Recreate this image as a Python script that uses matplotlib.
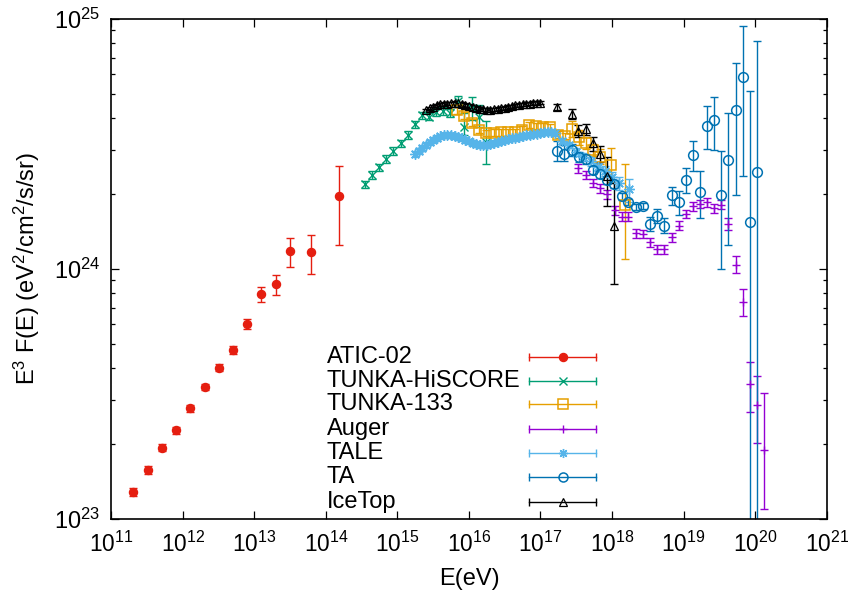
import numpy as np
import matplotlib
matplotlib.use('Agg')
import matplotlib.pyplot as plt
from matplotlib.ticker import LogLocator, NullLocator, NullFormatter

plt.rcParams['font.family'] = ['Liberation Sans', 'DejaVu Sans']
plt.rcParams['mathtext.default'] = 'regular'

UNIT = 1e24  # flux values below are in units of 1e24 eV^2/cm^2/s/sr

# ---------------- data (log10 E, E^3 F / 1e24, relative errors) ----------------
atic_logE = [11.309, 11.510, 11.710, 11.906, 12.106, 12.311, 12.502, 12.698, 12.898,
             13.098, 13.299, 13.495, 13.792, 14.184]
atic_val = [0.1286, 0.157, 0.193, 0.226, 0.277, 0.337, 0.403, 0.474, 0.604,
            0.792, 0.868, 1.18, 1.17, 1.95]
atic_eup = [0.035, 0.035, 0.03, 0.03, 0.03, 0.03, 0.03, 0.035, 0.045, 0.067, 0.091, 0.127, 0.174, 0.33]
atic_edn = [0.035, 0.035, 0.03, 0.03, 0.03, 0.03, 0.03, 0.035, 0.045, 0.067, 0.091, 0.137, 0.186, 0.36]

hiscore_logE = [14.547, 14.645, 14.743, 14.845, 14.943, 15.046, 15.144, 15.246, 15.340,
                15.442, 15.540, 15.641, 15.739, 15.843, 15.935, 16.038, 16.136, 16.234]
hiscore_val = [2.18, 2.38, 2.55, 2.76, 2.96, 3.18, 3.43, 3.79, 4.12,
               4.07, 4.26, 4.29, 4.20, 4.70, 3.71, 4.39, 4.04, 3.21]
hiscore_eup = [0.035, 0.035, 0.035, 0.035, 0.035, 0.035, 0.035, 0.035, 0.035,
               0.035, 0.035, 0.035, 0.035, 0.05, 0.13, 0.11, 0.12, 0.22]
hiscore_edn = [0.035, 0.035, 0.035, 0.035, 0.035, 0.035, 0.035, 0.035, 0.035,
               0.035, 0.035, 0.035, 0.035, 0.05, 0.075, 0.10, 0.083, 0.18]

tunka_logE = [15.829, 15.931, 16.036, 16.141, 16.243, 16.348, 16.448, 16.546, 16.644,
              16.738, 16.840, 16.942, 17.040, 17.133, 17.238, 17.336, 17.436, 17.538,
              17.636, 17.734, 17.832, 17.982, 18.182]
tunka_val = [4.31, 4.11, 3.85, 3.60, 3.50, 3.51, 3.52, 3.52, 3.54,
             3.61, 3.77, 3.73, 3.71, 3.70, 3.45, 3.40, 3.63, 3.36,
             3.19, 2.99, 2.81, 2.61, 1.80]
tunka_eup = [0.03, 0.03, 0.03, 0.03, 0.03, 0.03, 0.03, 0.03, 0.03,
             0.03, 0.03, 0.03, 0.03, 0.03, 0.03, 0.03, 0.075, 0.07,
             0.06, 0.06, 0.07, 0.17, 0.46]
tunka_edn = [0.03, 0.03, 0.03, 0.03, 0.03, 0.03, 0.03, 0.03, 0.03,
             0.03, 0.03, 0.03, 0.03, 0.03, 0.03, 0.03, 0.07, 0.065,
             0.055, 0.055, 0.065, 0.145, 0.39]

auger_logE = [17.528, 17.632, 17.730, 17.832, 17.934, 18.037, 18.135, 18.227, 18.335,
              18.437, 18.530, 18.632, 18.726, 18.834, 18.932, 19.029, 19.127, 19.229,
              19.331, 19.429, 19.523, 19.625, 19.728, 19.826, 19.928, 20.030, 20.128]
auger_val = [2.53, 2.38, 2.21, 2.10, 1.99, 1.72, 1.62, 1.62, 1.39,
             1.38, 1.28, 1.20, 1.20, 1.34, 1.49, 1.66, 1.78, 1.82,
             1.85, 1.75, 1.81, 1.51, 1.04, 0.740, 0.346, 0.286, 0.189]
auger_eup = [0.04] * 21 + [0.055, 0.08, 0.121, 0.231, 0.306, 0.695]
auger_edn = [0.04] * 21 + [0.055, 0.075, 0.123, 0.223, 0.293, 0.421]

tale_logE = [15.25, 15.30, 15.35, 15.40, 15.45, 15.50, 15.55, 15.60, 15.65, 15.70,
             15.75, 15.80, 15.85, 15.90, 15.95, 16.00, 16.05, 16.10, 16.15, 16.20,
             16.25, 16.30, 16.35, 16.40, 16.45, 16.50, 16.55, 16.60, 16.65, 16.70,
             16.75, 16.80, 16.85, 16.90, 16.95, 17.00, 17.05, 17.10, 17.15, 17.20,
             17.30, 17.40, 17.50, 17.60, 17.70, 17.80, 17.90, 18.00, 18.10, 18.24]
tale_val = [2.88, 2.96, 3.05, 3.13, 3.21, 3.28, 3.34, 3.39, 3.42, 3.44,
            3.42, 3.40, 3.37, 3.33, 3.28, 3.24, 3.19, 3.16, 3.13, 3.12,
            3.13, 3.16, 3.19, 3.22, 3.25, 3.28, 3.31, 3.33, 3.34, 3.37,
            3.40, 3.42, 3.44, 3.47, 3.48, 3.50, 3.52, 3.53, 3.53, 3.50,
            3.25, 3.13, 2.94, 2.81, 2.70, 2.56, 2.47, 2.33, 2.21, 2.08]
tale_eup = [0.025] * 40 + [0.03, 0.03, 0.035, 0.035, 0.04, 0.04, 0.045, 0.05, 0.06, 0.105]
tale_edn = [0.025] * 40 + [0.03, 0.03, 0.035, 0.035, 0.04, 0.04, 0.045, 0.05, 0.06, 0.105]

ta_logE = [17.226, 17.328, 17.436, 17.538, 17.632, 17.730, 17.832, 17.934, 18.032, 18.135,
           18.227, 18.335, 18.437, 18.530, 18.624, 18.726, 18.834, 18.932, 19.029, 19.127,
           19.229, 19.323, 19.425, 19.523, 19.625, 19.728, 19.826, 19.928, 20.030]
ta_val = [2.97, 2.88, 2.99, 2.81, 2.75, 2.49, 2.40, 2.27, 2.18, 1.95,
          1.86, 1.77, 1.78, 1.51, 1.63, 1.49, 1.98, 1.86, 2.26, 2.86,
          2.04, 3.74, 3.95, 1.98, 2.73, 4.33, 5.87, 1.54, 2.44]
ta_lo = [2.71, 2.70, 2.83, 2.68, 2.63, 2.40, 2.31, 2.19, 2.10, 1.88,
         1.81, 1.72, 1.73, 1.42, 1.53, 1.39, 1.81, 1.65, 2.01, 2.47,
         1.60, 3.02, 2.98, 1.00, 1.25, 1.98, 2.36, 0.001, 0.001]
ta_hi = [3.26, 3.13, 3.16, 2.94, 2.88, 2.58, 2.49, 2.36, 2.26, 2.02,
         1.91, 1.82, 1.83, 1.61, 1.73, 1.60, 2.12, 2.06, 2.54, 3.26,
         2.47, 4.47, 4.89, 2.97, 4.21, 6.68, 9.39, 5.13, 8.17]

icetop_logE = [15.40, 15.45, 15.50, 15.55, 15.60, 15.65, 15.70, 15.75, 15.80, 15.85,
               15.90, 15.95, 16.00, 16.05, 16.10, 16.15, 16.20, 16.25, 16.30, 16.35,
               16.40, 16.45, 16.50, 16.55, 16.60, 16.65, 16.70, 16.75, 16.80, 16.85,
               16.90, 16.95, 17.00,
               17.226, 17.436, 17.528, 17.636, 17.730, 17.832, 17.930, 18.034]
icetop_val = [4.31, 4.39, 4.45, 4.51, 4.55, 4.57, 4.59, 4.60, 4.61, 4.60,
              4.57, 4.53, 4.49, 4.45, 4.41, 4.37, 4.35, 4.33, 4.33, 4.35,
              4.37, 4.39, 4.41, 4.45, 4.47, 4.51, 4.53, 4.55, 4.57, 4.59,
              4.61, 4.61, 4.63,
              4.44, 4.16, 3.57, 3.62, 3.18, 2.89, 2.36, 1.48]
icetop_eup = [0.015] * 33 + [0.03, 0.045, 0.055, 0.055, 0.065, 0.075, 0.19, 0.49]
icetop_edn = [0.015] * 33 + [0.03, 0.045, 0.055, 0.055, 0.065, 0.075, 0.24, 0.41]

labels = ['ATIC-02', 'TUNKA-HiSCORE', 'TUNKA-133', 'Auger', 'TALE', 'TA', 'IceTop']

# ---------------- figure ----------------
W, H = 848, 601
fig = plt.figure(figsize=(W / 100, H / 100), dpi=100)
L, R, T, B = 111.2, 826.7, 19.0, 519.0
ax = fig.add_axes([L / W, 1 - B / H, (R - L) / W, (B - T) / H])
ax.set_xscale('log')
ax.set_yscale('log')
ax.set_xlim(1e11, 1e21)
ax.set_ylim(1e23, 1e25)

styles = [
    dict(color='#e51e10', marker='o', ms=5.8, mfc='#e51e10', mew=1.0),
    dict(color='#009e73', marker='x', ms=6.0, mfc='none', mew=1.0),
    dict(color='#e69f00', marker='s', ms=6.5, mfc='none', mew=1.1),
    dict(color='#9400d3', marker='+', ms=6.0, mfc='none', mew=1.0),
    dict(color='#56b4e9', marker=(8, 2, 0), ms=7.5, mfc='none', mew=1.0),
    dict(color='#0072b2', marker='o', ms=7.0, mfc='none', mew=1.1),
    dict(color='black', marker='^', ms=6.0, mfc='none', mew=0.9),
]


def draw(x, y, yerr, st):
    ax.errorbar(x, y, yerr=yerr, fmt='none', ecolor=st['color'], elinewidth=1.0,
                capsize=3.0, capthick=1.0, zorder=2)
    ax.plot(x, y, ls='none', marker=st['marker'], ms=st['ms'], mec=st['color'],
            mfc=st['mfc'], mew=st['mew'], zorder=3)


def plot_rel(logE, val, eup, edn, st):
    x = 10 ** np.array(logE)
    y = np.array(val) * UNIT
    draw(x, y, [y * np.array(edn), y * np.array(eup)], st)


def plot_abs(logE, val, lo, hi, st):
    x = 10 ** np.array(logE)
    y = np.array(val) * UNIT
    draw(x, y, [y - np.array(lo) * UNIT, np.array(hi) * UNIT - y], st)


plot_rel(atic_logE, atic_val, atic_eup, atic_edn, styles[0])
plot_rel(hiscore_logE, hiscore_val, hiscore_eup, hiscore_edn, styles[1])
plot_rel(tunka_logE, tunka_val, tunka_eup, tunka_edn, styles[2])
plot_rel(auger_logE, auger_val, auger_eup, auger_edn, styles[3])
plot_rel(tale_logE, tale_val, tale_eup, tale_edn, styles[4])
plot_abs(ta_logE, ta_val, ta_lo, ta_hi, styles[5])
plot_rel(icetop_logE, icetop_val, icetop_eup, icetop_edn, styles[6])

# ---------------- axes styling ----------------
ax.xaxis.set_major_locator(LogLocator(base=10, numticks=30))
ax.xaxis.set_minor_locator(NullLocator())
ax.yaxis.set_major_locator(LogLocator(base=10, numticks=10))
ax.yaxis.set_minor_locator(LogLocator(base=10, subs=np.arange(2, 10), numticks=30))
ax.yaxis.set_minor_formatter(NullFormatter())
ax.tick_params(which='both', direction='in', top=True, right=True, width=0.9)
ax.tick_params(which='major', length=5.5, labelsize=17)
ax.tick_params(which='minor', length=3.1)
ax.tick_params(axis='x', pad=9, labelsize=16.3)
ax.tick_params(axis='y', pad=8)
for s in ax.spines.values():
    s.set_linewidth(1.2)

ax.set_xlabel('E(eV)', fontsize=17)
ax.xaxis.set_label_coords(0.5, -0.098)
ax.set_ylabel('E$^{3}$ F(E) (eV$^{2}$/cm$^{2}$/s/sr)', fontsize=17)
ax.yaxis.set_label_coords(-0.097, 0.5)

# ---------------- key (gnuplot style) ----------------
def fx(px):
    return (px - L) / (R - L)


def fy(py):
    return (B - py) / (B - T)


rows = [356.7, 380.7, 404.3, 429.0, 453.3, 477.0, 502.0]
for lab, st, py in zip(labels, styles, rows):
    yy = fy(py)
    ax.text(fx(326.7), yy, lab, transform=ax.transAxes, fontsize=17,
            ha='left', va='center')
    ax.plot([fx(529.3), fx(595.7)], [yy, yy], transform=ax.transAxes,
            color=st['color'], lw=1.0, clip_on=False, zorder=4)
    ax.plot([fx(529.3), fx(595.7)], [yy, yy], transform=ax.transAxes, ls='none',
            marker='|', ms=6, mew=1.0, color=st['color'], clip_on=False, zorder=4)
    ax.plot([fx(562.7)], [yy], transform=ax.transAxes, ls='none',
            marker=st['marker'], ms=min(st['ms'], 6.5), mec=st['color'], mfc=st['mfc'],
            mew=st['mew'], clip_on=False, zorder=5)

fig.savefig('out.png', dpi=100)
